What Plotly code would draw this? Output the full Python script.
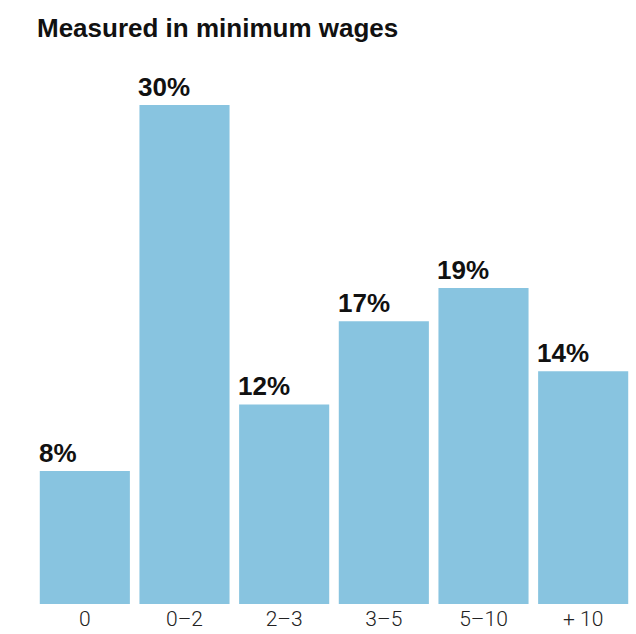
import plotly.graph_objects as go

categories = ["0", "0–2", "2–3", "3–5", "5–10", "+ 10"]
values = [8, 30, 12, 17, 19, 14]
labels = ["8%", "30%", "12%", "17%", "19%", "14%"]
title = "Measured in minimum wages"

W, H = 636, 634
ml, mr, mt, mb = 35, 3, 105, 30
bar_color = "#88c4e0"
bold_font = "Liberation Sans, Arial, sans-serif"

fig = go.Figure()
fig.add_trace(go.Bar(
    x=list(range(len(categories))),
    y=values,
    marker=dict(color=bar_color, line=dict(width=0)),
    width=0.904,
    hoverinfo="skip",
))

for i, (v, lab) in enumerate(zip(values, labels)):
    fig.add_annotation(
        x=i - 0.452, y=v, xref="x", yref="y",
        text="<b>" + lab + "</b>", showarrow=False,
        xanchor="left", yanchor="bottom", yshift=1, xshift=-3,
        font=dict(family=bold_font, size=26, color="#111"),
    )

fig.update_layout(
    width=W, height=H,
    margin=dict(l=ml, r=mr, t=mt, b=mb, pad=0, autoexpand=False),
    paper_bgcolor="white", plot_bgcolor="white",
    showlegend=False,
    title=dict(
        text="<b>" + title + "</b>",
        xref="container", yref="container",
        x=37 / W, y=1 - 28 / H, xanchor="left", yanchor="middle",
        font=dict(family=bold_font, size=26, color="#111"),
    ),
    xaxis=dict(
        range=[-0.5, len(categories) - 0.5],
        tickmode="array", tickvals=list(range(len(categories))), ticktext=categories,
        showgrid=False, zeroline=False, showline=False,
        ticks="", ticklen=0,
        tickfont=dict(family="Roboto, Liberation Sans, sans-serif", size=21, color="#222", weight=300),
        automargin=False,
        fixedrange=True,
    ),
    yaxis=dict(
        range=[0, 30], visible=False, showgrid=False, zeroline=False, fixedrange=True,
        automargin=False,
    ),
)

fig.write_html("out.html")
